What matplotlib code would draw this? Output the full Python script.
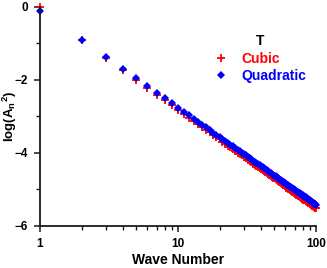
import matplotlib
matplotlib.use("Agg")
import matplotlib.pyplot as plt
from matplotlib.ticker import FixedLocator, NullFormatter, FixedFormatter, LogLocator

plt.rcParams['font.family'] = ['Liberation Sans', 'DejaVu Sans']
plt.rcParams['font.weight'] = 'bold'
plt.rcParams['mathtext.fontset'] = 'custom'
plt.rcParams['mathtext.rm'] = 'Liberation Sans'
plt.rcParams['mathtext.bf'] = 'Liberation Sans:bold'
plt.rcParams['mathtext.it'] = 'Liberation Sans:bold'

wave_number = list(range(1, 101))

quadratic = [
    -0.10, -0.90, -1.37, -1.70, -1.96, -2.17, -2.35, -2.50, -2.64, -2.76,
    -2.87, -2.97, -3.06, -3.15, -3.23, -3.30, -3.37, -3.44, -3.50, -3.56,
    -3.62, -3.67, -3.72, -3.77, -3.82, -3.86, -3.91, -3.95, -3.99, -4.03,
    -4.07, -4.10, -4.14, -4.17, -4.21, -4.24, -4.27, -4.30, -4.33, -4.36,
    -4.39, -4.42, -4.44, -4.47, -4.50, -4.52, -4.55, -4.57, -4.60, -4.62,
    -4.64, -4.66, -4.69, -4.71, -4.73, -4.75, -4.77, -4.79, -4.81, -4.83,
    -4.85, -4.87, -4.89, -4.90, -4.92, -4.94, -4.96, -4.98, -4.99, -5.01,
    -5.02, -5.04, -5.06, -5.07, -5.09, -5.10, -5.12, -5.13, -5.15, -5.16,
    -5.18, -5.19, -5.20, -5.22, -5.23, -5.24, -5.26, -5.27, -5.28, -5.30,
    -5.31, -5.32, -5.34, -5.35, -5.36, -5.37, -5.39, -5.40, -5.41, -5.42,
]

cubic = [
    0.00, -0.91, -1.39, -1.73, -2.00, -2.22, -2.40, -2.56, -2.70, -2.82,
    -2.93, -3.03, -3.12, -3.21, -3.29, -3.36, -3.43, -3.50, -3.56, -3.62,
    -3.70, -3.75, -3.80, -3.85, -3.90, -3.94, -3.99, -4.03, -4.07, -4.11,
    -4.15, -4.18, -4.22, -4.25, -4.29, -4.32, -4.35, -4.38, -4.41, -4.44,
    -4.47, -4.50, -4.52, -4.55, -4.58, -4.60, -4.63, -4.65, -4.68, -4.70,
    -4.72, -4.74, -4.77, -4.79, -4.81, -4.83, -4.85, -4.87, -4.89, -4.91,
    -4.95, -4.97, -4.99, -5.00, -5.02, -5.04, -5.06, -5.08, -5.09, -5.11,
    -5.12, -5.14, -5.16, -5.17, -5.19, -5.20, -5.22, -5.23, -5.25, -5.26,
    -5.28, -5.29, -5.30, -5.32, -5.33, -5.34, -5.36, -5.37, -5.38, -5.40,
    -5.41, -5.42, -5.44, -5.45, -5.46, -5.47, -5.49, -5.50, -5.51, -5.52,
]

y_major = [0, -2, -4, -6]
y_minor = [-1, -3, -5]
x_major = [1, 10, 100]
x_major_labels = ['1', '10', '100']

fig = plt.figure(figsize=(3.27, 2.68), dpi=100)
ax = fig.add_axes([0.1223, 0.157, 0.844, 0.817])

ax.plot(wave_number, cubic, linestyle='none', marker='+', color='#ff0000',
        markersize=5.5, markeredgewidth=1.3, label='Cubic')
ax.plot(wave_number, quadratic, linestyle='none', marker='D', color='#0000ff',
        markersize=4.4, markeredgewidth=0, label='Quadratic')

ax.set_xscale('log')
ax.set_xlim(1, 100)
ax.set_ylim(-6, 0)

ax.xaxis.set_major_locator(FixedLocator(x_major))
ax.xaxis.set_major_formatter(FixedFormatter(x_major_labels))
ax.xaxis.set_minor_locator(LogLocator(base=10, subs=range(2, 10)))
ax.xaxis.set_minor_formatter(NullFormatter())
ax.yaxis.set_major_locator(FixedLocator(y_major))
ax.yaxis.set_minor_locator(FixedLocator(y_minor))

for s in ['top', 'right']:
    ax.spines[s].set_visible(False)
for s in ['left', 'bottom']:
    ax.spines[s].set_linewidth(1.3)
    ax.spines[s].set_color('#1a1a1a')
    ax.spines[s].set_clip_on(False)

ax.tick_params(which='major', direction='out', length=4.5, width=1.1,
               color='#1a1a1a', labelsize=8.5)
ax.tick_params(axis='y', which='major', pad=4)
ax.tick_params(axis='x', which='major', pad=4)
ax.tick_params(which='minor', direction='out', length=2.6, width=1.0,
               color='#1a1a1a')
for lab in ax.get_xticklabels() + ax.get_yticklabels():
    lab.set_fontweight('bold')

ax.set_xlabel('Wave Number', fontsize=10, fontweight='bold')
ax.xaxis.set_label_coords(0.5, -0.125)
ax.set_ylabel(r'log(A$_\mathbf{n}$$^\mathbf{2}$)', fontsize=9.5, fontweight='bold')
ax.yaxis.set_label_coords(-0.076, 0.5)

leg = ax.legend(loc='upper right', bbox_to_anchor=(0.965, 0.875), frameon=False,
                title='T', fontsize=10, handlelength=1.0, handletextpad=1.0,
                labelspacing=0.25, borderaxespad=0.0, borderpad=0.0)
leg.get_title().set_fontweight('bold')
leg.get_title().set_fontsize(10)
for txt, c in zip(leg.get_texts(), ['#ff0000', '#0000ff']):
    txt.set_color(c)
    txt.set_fontweight('bold')

for line in ax.get_lines():
    line.set_clip_on(False)

fig.savefig('out.png', dpi=100)
